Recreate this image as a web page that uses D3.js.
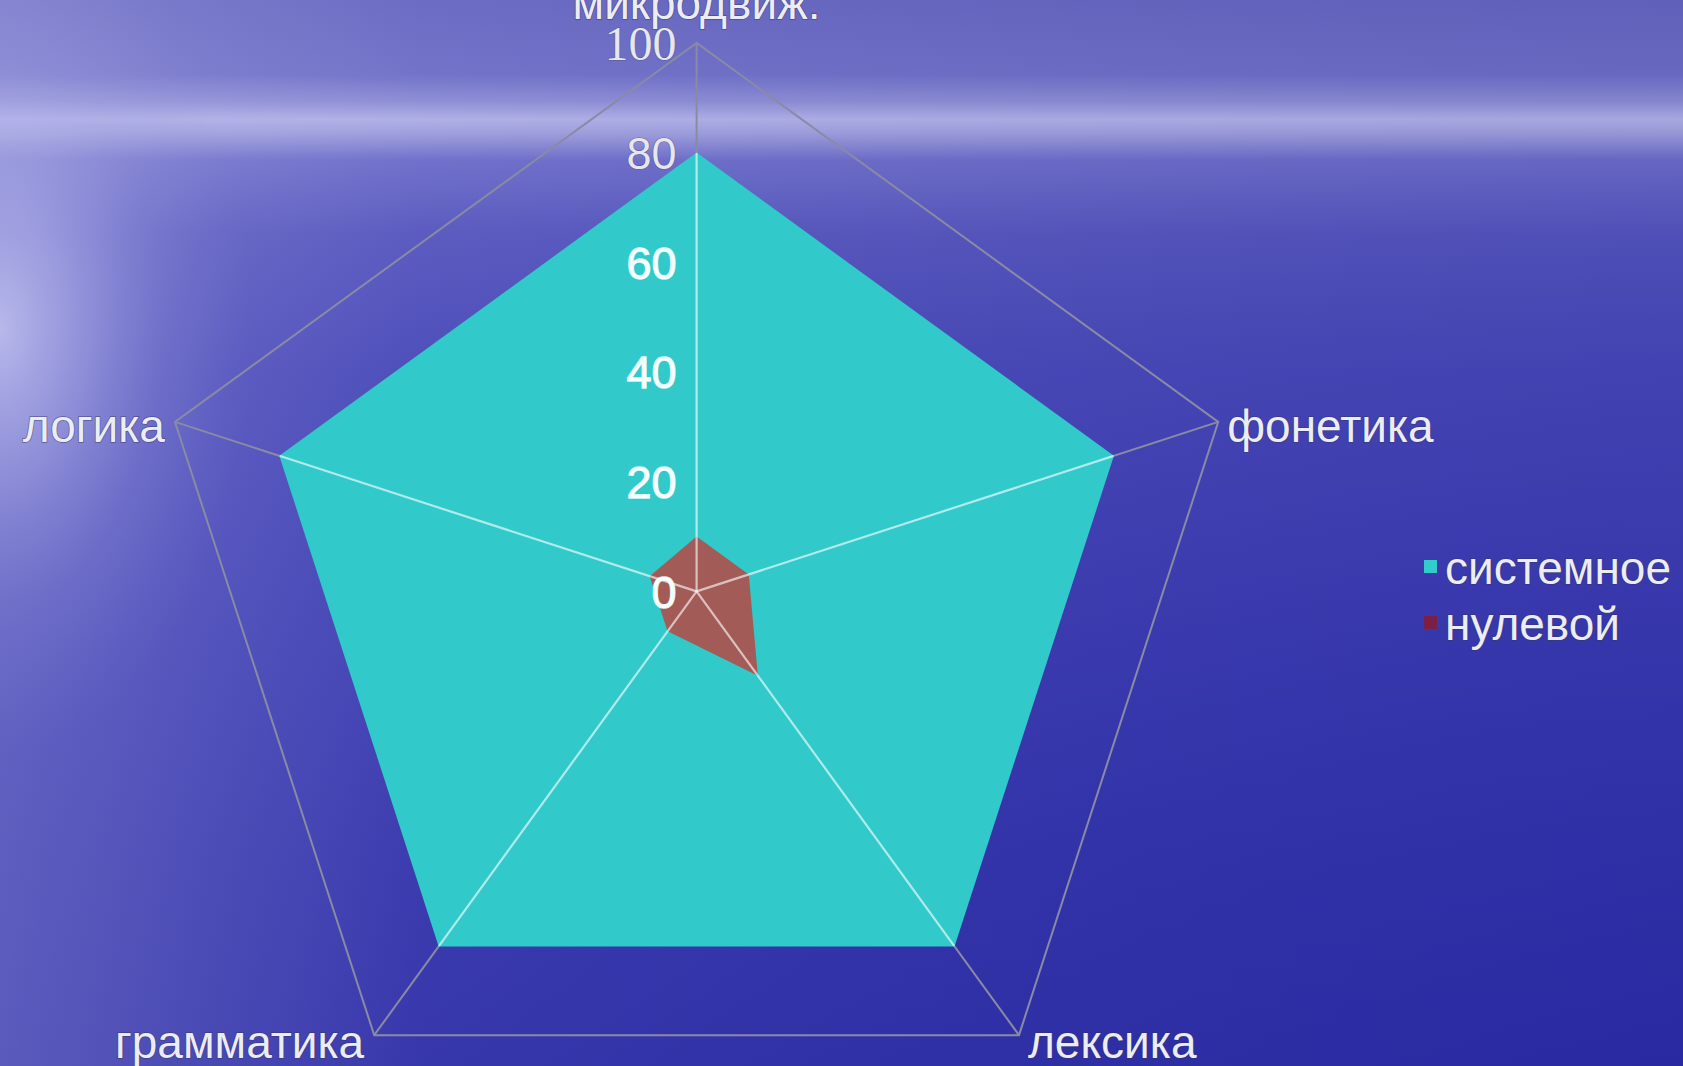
<!DOCTYPE html>
<html>
<head>
<meta charset="utf-8">
<script src="https://cdn.jsdelivr.net/npm/d3@7"></script>
<style>
html,body{margin:0;padding:0;overflow:hidden;background:#3a3ab0;}
svg{display:block;}
</style>
</head>
<body>
<svg id="chart" width="1683" height="1066"></svg>
<script>
// ---- data ----
const categories = ["микродвиж.", "фонетика", "лексика", "грамматика", "логика"];
const seriesNames = ["системное", "нулевой"];
const systemValues = [80, 80, 80, 80, 80];
const zeroValues = [10, 10, 19, 9, 9];
const tickValues = [0, 20, 40, 60, 80, 100];
const tickLabels = ["0", "20", "40", "60", "80", "100"];

const seriesColors = ["#31c9c9", "#a35b57"];
const legendColors = ["#33cccc", "#7a1f45"];

const W = 1683, H = 1066;
const cx = 696.6, cy = 591.4, R = 548.5;
const svg = d3.select("#chart");
const defs = svg.append("defs");

// ---- background ----
const bg = defs.append("linearGradient").attr("id","bgv").attr("x1",0).attr("y1",0).attr("x2",0).attr("y2",1);
[[0,"#6464c0"],[0.07,"#6c6cc6"],[0.095,"#8a8ad4"],[0.112,"#aeaee6"],[0.125,"#9c9cdc"],[0.15,"#6a6ac8"],[0.22,"#5252bc"],[0.35,"#4444b6"],[0.6,"#3838b0"],[0.8,"#3030aa"],[1,"#2b2ba6"]]
  .forEach(([o,c]) => bg.append("stop").attr("offset",o).attr("stop-color",c));
const glare = defs.append("radialGradient").attr("id","glare")
  .attr("gradientUnits","userSpaceOnUse").attr("cx",0).attr("cy",330).attr("r",420)
  .attr("gradientTransform","translate(0,330) scale(0.6,1) translate(0,-330)");
[[0,"rgba(215,215,250,0.7)"],[0.3,"rgba(190,190,240,0.5)"],[0.65,"rgba(160,160,225,0.2)"],[1,"rgba(140,140,220,0)"]]
  .forEach(([o,c]) => glare.append("stop").attr("offset",o).attr("stop-color",c));
const hz = defs.append("linearGradient").attr("id","hz").attr("x1",0).attr("y1",0).attr("x2",1).attr("y2",0);
[[0,"rgba(200,200,240,0.3)"],[0.25,"rgba(200,200,240,0.08)"],[1,"rgba(0,0,60,0.04)"]]
  .forEach(([o,c]) => hz.append("stop").attr("offset",o).attr("stop-color",c));
svg.append("rect").attr("width",W).attr("height",H).attr("fill","url(#bgv)");
svg.append("rect").attr("width",W).attr("height",H).attr("fill","url(#hz)");
svg.append("rect").attr("width",W).attr("height",H).attr("fill","url(#glare)");

// ---- scales ----
const r = d3.scaleLinear().domain([0,100]).range([0,R]);
const angle = d3.scaleLinear().domain([0, categories.length]).range([0, 2*Math.PI]);
const pt = (i, v) => {
  const a = angle(i) - Math.PI/2;
  return [cx + r(v)*Math.cos(a), cy + r(v)*Math.sin(a)];
};
const radial = d3.lineRadial().angle((d,i) => angle(i)).radius(d => r(d)).curve(d3.curveLinearClosed);
const g = svg.append("g").attr("transform", `translate(${cx},${cy})`);

// outer grid
const maxTick = tickValues[tickValues.length-1];
g.append("path").attr("d", radial(categories.map(() => maxTick)))
  .attr("fill","none").attr("stroke","#8a8aa6").attr("stroke-width",2);

// spokes (gray, full length)
g.selectAll("line.spoke").data(categories).join("line").attr("class","spoke")
  .attr("x1",0).attr("y1",0)
  .attr("x2",(d,i) => pt(i,maxTick)[0]-cx).attr("y2",(d,i) => pt(i,maxTick)[1]-cy)
  .attr("stroke","#8a8aa6").attr("stroke-width",2);

// series polygons
const allSeries = [systemValues, zeroValues];
g.selectAll("path.series").data(allSeries).join("path").attr("class","series")
  .attr("d", d => radial(d)).attr("fill",(d,i) => seriesColors[i]).attr("stroke","none");

// light spokes over the filled area
defs.append("clipPath").attr("id","areaClip").append("path").attr("d", radial(systemValues));
g.append("g").attr("clip-path","url(#areaClip)")
  .selectAll("line").data(categories).join("line")
  .attr("x1",0).attr("y1",0)
  .attr("x2",(d,i) => pt(i,maxTick)[0]-cx).attr("y2",(d,i) => pt(i,maxTick)[1]-cy)
  .attr("stroke","rgba(255,255,255,0.62)").attr("stroke-width",2.2);

// tick labels
svg.append("g").selectAll("text").data(tickValues).join("text")
  .attr("x", cx - 20).attr("y", d => cy - r(d))
  .attr("dy","0.36em").attr("text-anchor","end")
  .attr("font-family", (d,i) => i === tickValues.length-1 ? "Liberation Serif, serif" : "Liberation Sans, Arial, sans-serif")
  .attr("font-size", (d,i) => i === tickValues.length-1 ? 48 : 45)
  .attr("fill", (d,i) => i >= 4 ? "#e6e6ee" : "#f4ffff")
  .attr("stroke", (d,i) => i >= 4 ? "rgba(70,70,110,0.6)" : "rgba(240,255,255,0.9)")
  .attr("stroke-width", (d,i) => i >= 4 ? 1.2 : 1.3)
  .attr("paint-order","stroke")
  .text((d,i) => tickLabels[i]);

// category labels
const labelG = svg.append("g").attr("font-family","Liberation Sans, Arial, sans-serif").attr("font-size",46);
categories.forEach((c,i) => {
  const [x,y] = pt(i, maxTick);
  const a = angle(i) - Math.PI/2;
  const cs = Math.cos(a);
  let anchor = "middle", tx = x, ty = y;
  if (Math.abs(cs) < 0.1) { ty = y - 40; }
  else if (cs > 0) { anchor = "start"; tx = x + 9; ty = y + 4; }
  else { anchor = "end"; tx = x - 10; ty = y + 4; }
  if (Math.sin(a) > 0.5) ty = y + 6;
  labelG.append("text").attr("x",tx).attr("y",ty).attr("dy","0.36em")
    .attr("text-anchor",anchor).attr("fill","#ececf4")
    .attr("stroke","rgba(50,50,100,0.55)").attr("stroke-width",1.5).attr("paint-order","stroke")
    .text(c);
});

// legend
const legend = svg.append("g").attr("font-family","Liberation Sans, Arial, sans-serif").attr("font-size",46);
seriesNames.forEach((s,i) => {
  const ly = 567 + i*56;
  legend.append("rect").attr("x",1424).attr("y",ly-7).attr("width",13).attr("height",13).attr("fill",legendColors[i]);
  legend.append("text").attr("x",1445).attr("y",ly).attr("dy","0.36em").attr("fill","#ececf4")
    .attr("stroke","rgba(50,50,100,0.55)").attr("stroke-width",1.5).attr("paint-order","stroke")
    .text(s);
});
</script>
</body>
</html>
